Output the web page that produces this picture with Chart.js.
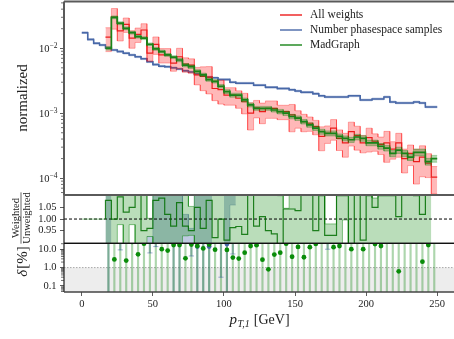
<!DOCTYPE html>
<html>
<head>
<meta charset="utf-8">
<title>pT,1 distribution</title>
<script src="https://cdn.jsdelivr.net/npm/chart.js@4.4.1/dist/chart.umd.min.js"></script>
<style>
  html, body { margin: 0; padding: 0; background: #fff; overflow: hidden; }
  #wrap { position: relative; width: 454px; height: 339px; overflow: hidden; }
  #wrap canvas { position: absolute; left: 0; }
</style>
</head>
<body>
<div id="wrap">
  <canvas id="main" width="460" height="200" style="top:0px"></canvas>
  <canvas id="ratio" width="460" height="60" style="top:190px"></canvas>
  <canvas id="delta" width="460" height="101" style="top:238px"></canvas>
</div>
<script>
const SERIF = '"Liberation Serif", "DejaVu Serif", serif';
const INK = '#222';

// 60 bins of 250/60 GeV
const N_BINS = 60;
const PT_MAX = 250;
const binEdges = Array.from({ length: N_BINS + 1 }, (_, i) => (i * PT_MAX) / N_BINS);
const binCenters = binEdges.slice(0, -1).map((e, i) => (e + binEdges[i + 1]) / 2);

const X_MIN = -12.5, X_MAX = 262.5;
const xTicks = [0, 50, 100, 150, 200, 250];
const yTopTicks = [1e-4, 1e-3, 1e-2];
const ratioTicks = [0.95, 1.0, 1.05];
const deltaTicks = [0.1, 1, 10];

const seriesLabels = ['All weights', 'Number phasespace samples', 'MadGraph'];

// top panel, normalized distributions
const allWeights = [
  0, 0, 0, 0, 0.0148, 0.0303, 0.0185, 0.0234, 0.0143, 0.0164,
  0.0191, 0.0084, 0.0115, 0.0079, 0.0079, 0.0059, 0.0074, 0.0057, 0.0055, 0.0039,
  0.0037, 0.0036, 0.0024, 0.0023, 0.0019, 0.0019, 0.0017, 0.0015, 0.0010, 0.00121,
  0.00106, 0.00119, 0.00119, 0.00106, 0.00106, 0.00094, 0.00084, 0.00074, 0.00070, 0.00062,
  0.00044, 0.00049, 0.00059, 0.00041, 0.00035, 0.00052, 0.00045, 0.00035, 0.00042, 0.00037,
  0.00033, 0.00035, 0.00028, 0.00035, 0.00020, 0.00024, 0.00018, 0.00021, 0.00017, 0.000104
];
const allWeightsRelErr = [
  null, null, null, null, 0.40, 0.35, 0.30, 0.25, 0.30, 0.25,
  0.25, 0.25, 0.30, 0.25, 0.25, 0.25, 0.35, 0.25, 0.25, 0.30,
  0.40, 0.45, 0.35, 0.40, 0.30, 0.30, 0.30, 0.35, 0.45, 0.30,
  0.35, 0.30, 0.30, 0.25, 0.25, 0.45, 0.30, 0.30, 0.25, 0.25,
  0.40, 0.30, 0.35, 0.35, 0.40, 0.40, 0.40, 0.30, 0.40, 0.30,
  0.30, 0.50, 0.30, 0.40, 0.40, 0.35, 0.55, 0.50, 0.40, 0.45
];
const phasespaceSamples = [
  0.0174, 0.0137, 0.0119, 0.0112, 0.0101, 0.0094, 0.0089, 0.0084, 0.0079, 0.0074,
  0.0069, 0.0062, 0.0056, 0.0053, 0.0052, 0.0050, 0.0048, 0.0045, 0.0043, 0.0040,
  0.0039, 0.0036, 0.0035, 0.0033, 0.0033, 0.0030, 0.0029, 0.0029, 0.0029, 0.0027,
  0.0027, 0.0025, 0.0025, 0.0024, 0.0024, 0.0023, 0.0022, 0.0021, 0.0021, 0.0020,
  0.00185, 0.00178, 0.00178, 0.00178, 0.00178, 0.00185, 0.00185, 0.0016, 0.0016, 0.00166,
  0.00166, 0.00178, 0.00149, 0.00144, 0.00144, 0.00144, 0.00149, 0.00144, 0.00125, 0.00125
];
const phasespaceRelErr = 0.03;
const madgraph = [
  0, 0, 0, 0, 0.0100, 0.0300, 0.0243, 0.0203, 0.0174, 0.0151,
  0.0143, 0.0115, 0.0098, 0.0089, 0.0079, 0.0073, 0.0066, 0.0055, 0.0052, 0.0044,
  0.0039, 0.0033, 0.0031, 0.0026, 0.00215, 0.0019, 0.0019, 0.0016, 0.00134, 0.00119,
  0.00119, 0.00119, 0.00112, 0.00106, 0.00100, 0.00089, 0.00084, 0.00074, 0.00066, 0.00059,
  0.00052, 0.00049, 0.00049, 0.00044, 0.00041, 0.00039, 0.00043, 0.00041, 0.00035, 0.00035,
  0.00031, 0.00029, 0.00024, 0.00027, 0.00024, 0.00021, 0.00025, 0.00025, 0.00018, 0.00020
];
const madgraphRelErr = [
  null, null, null, null, 0.06, 0.05, 0.05, 0.05, 0.05, 0.05,
  0.05, 0.05, 0.05, 0.05, 0.05, 0.05, 0.06, 0.06, 0.06, 0.06,
  0.06, 0.06, 0.06, 0.06, 0.07, 0.07, 0.07, 0.07, 0.07, 0.07,
  0.07, 0.07, 0.07, 0.08, 0.08, 0.08, 0.08, 0.08, 0.08, 0.08,
  0.09, 0.09, 0.09, 0.09, 0.09, 0.09, 0.10, 0.10, 0.10, 0.10,
  0.10, 0.10, 0.11, 0.11, 0.11, 0.11, 0.12, 0.12, 0.12, 0.12
];

// middle panel, weighted / unweighted
const ratioReference = 1;
const ratioValue = [
  1, 1, 1, 1, 1.08, 1.00, 1.095, 1.03, 1.05, 1.15,
  0.95, 0.96, 1.08, 1.09, 1.02, 0.97, 1.07, 0.97, 0.95, 1.05,
  0.96, 1.08, 0.92, 1.00, 0.91, 0.963, 0.968, 0.934, 1.15, 0.97,
  1.01, 0.95, 0.936, 0.88, 1.043, 1.043, 1.036, 1.12, 1.12, 0.95,
  1.10, 0.93, 0.93, 1.10, 1.10, 0.88, 1.12, 0.91, 1.10, 1.05,
  1.10, 1.10, 1.10, 1.01, 1.12, 1.12, 1.10, 1.02, 1.12, null
];
const ratioLow = [
  null, null, null, null, 0.80, 0.75, 0.976, 0.80, 0.976, 0.85,
  0.80, 0.925, 0.80, 0.85, 0.80, 0.80, 0.80, 0.928, 0.93, 0.80,
  0.80, 0.80, 0.80, 0.80, 0.80, 0.80, 0.80, 0.80, 0.80, 0.80,
  0.80, 0.80, 0.80, 0.70, 0.80, 0.80, 0.80, 0.85, 0.85, 0.80,
  0.85, 0.80, 0.80, 0.85, 0.996, 0.70, 0.80, 0.80, 0.80, 0.80,
  0.80, 0.80, 0.80, 0.80, 0.80, 0.80, 0.80, 0.80, 0.80, null
];
const ratioHigh = [
  null, null, null, null, 1.36, 1.25, 1.30, 1.25, 1.30, 1.40,
  1.15, 1.003, 1.30, 1.30, 1.20, 1.20, 1.30, 1.20, 1.054, 1.30,
  1.20, 1.30, 1.20, 1.20, 1.20, 1.20, 1.20, 1.20, 1.40, 1.20,
  1.20, 1.20, 1.20, 1.10, 1.046, 1.20, 1.20, 1.35, 1.35, 1.20,
  1.30, 0.979, 0.979, 1.30, 1.30, 1.20, 1.30, 1.20, 1.30, 1.09,
  1.30, 1.30, 1.30, 1.20, 1.30, 1.30, 1.30, 1.20, 1.30, null
];
const psRatioLow = [
  null, null, null, null, 0.80, null, null, null, null, null,
  null, 0.80, 0.80, 0.80, 0.80, 0.80, 0.80, 0.80, 0.80, 0.80,
  0.80, 0.80, null, null, 0.80, 1.06, null, null, null, null,
  null, null, null, null, null, null, null, null, null, null,
  null, null, null, null, null, null, null, null, null, null,
  null, null, null, null, null, null, null, null, null, null
];
const psRatioHigh = [
  null, null, null, null, 1.30, null, null, null, null, null,
  null, 0.925, 1.30, 1.30, 1.30, 1.30, 1.30, 1.02, 0.96, 1.30,
  1.30, 1.30, null, null, 1.30, 1.30, null, null, null, null,
  null, null, null, null, null, null, null, null, null, null,
  null, null, null, null, null, null, null, null, null, null,
  null, null, null, null, null, null, null, null, null, null
];

// bottom panel, relative uncertainty delta [%]
const deltaReference = 1;
const deltaValue = [
  null, null, null, null, 35, 2.8, 30, 2.4, 25, 5.3,
  20, 40, 30, 10, 8.4, 17, 17, 3.2, 18, 15,
  11, 18, 9.5, 30, 9.2, 3.5, 3.1, 6.5, 15, 16.5,
  2.7, 0.81, 5.1, 6.5, 20, 3.9, 13.4, 3.65, 12.9, 19.5,
  30, 30, 13, 15, 30, 10, 30, 10, 30, 19,
  15, 30, 30, 0.63, 30, 30, 30, 2.1, 17, 30
];
const deltaErr = [
  null, null, null, null, 40, 25, 35, 25, 30, 22,
  25, 45, 35, 20, 20, 20, 20, 22, 20, 20,
  20, 20, 20, 35, 20, 22, 22, 20, 20, 20,
  22, 25, 20, 20, 25, 22, 20, 22, 20, 20,
  35, 35, 20, 20, 35, 20, 35, 20, 35, 20,
  20, 35, 35, 25, 35, 35, 35, 22, 20, 35
];
const psDeltaValue = [
  null, null, null, null, 30, null, 30, null, null, null,
  null, 30, 30, null, null, 30, 30, null, 30, 14,
  30, 14, null, 30, 19, 30, null, null, null, null,
  null, null, null, null, null, null, null, null, null, null,
  null, 30, null, null, null, null, null, null, null, null,
  null, null, null, null, null, null, null, null, null, null
];
const psDeltaErr = [
  null, null, null, null, 40, null, 20.8, null, null, null,
  null, 23.7, 16.1, null, null, 40, 40, null, 25.7, 20,
  40, 20, null, 29.7, 25, 24.5, null, null, null, null,
  null, null, null, null, null, null, null, null, null, null,
  null, 20, null, null, null, null, null, null, null, null,
  null, null, null, null, null, null, null, null, null, null
];

const TOP_MIN = 5.5e-5, TOP_MAX = 0.0525;
const RATIO_MIN = 0.896, RATIO_MAX = 1.103;
const DELTA_MIN = 0.047, DELTA_MAX = 21;

const red = 'rgb(236,28,28)';
const blue = 'rgb(72,104,168)';
const green = 'rgb(24,132,24)';

Chart.defaults.font.family = SERIF;

// histogram values -> flat-topped step path
function stepPoints(values) {
  const pts = [];
  values.forEach((v, i) => {
    if (v == null) { pts.push({ x: binEdges[i], y: null }); return; }
    pts.push({ x: binEdges[i], y: v }, { x: binEdges[i + 1], y: v });
  });
  return pts;
}

function stepLine(values, color, width, order, extra) {
  return Object.assign({
    type: 'line', data: stepPoints(values), borderColor: color, borderWidth: width,
    pointRadius: 0, fill: false, tension: 0, order, clip: 0, spanGaps: false,
  }, extra || {});
}

function band(lo, hi, fillColor, edgeColor, order) {
  return [
    stepLine(lo, edgeColor, 1, order),
    stepLine(hi, edgeColor, 1, order, { fill: '-1', backgroundColor: fillColor }),
  ];
}

const scaleBand = (vals, rel, sign) =>
  vals.map((v, i) => {
    const e = Array.isArray(rel) ? rel[i] : rel;
    return e == null ? null : v * (1 + sign * e);
  });

function xAxis(visible) {
  const axis = {
    type: 'linear', min: X_MIN, max: X_MAX, offset: false, display: visible,
    afterBuildTicks: s => { s.ticks = xTicks.map(value => ({ value })); },
    border: { display: false },
    grid: { display: true, offset: false, drawOnChartArea: false, drawTicks: true, tickLength: 4, tickColor: '#333', tickWidth: 0.8 },
    ticks: { font: { family: SERIF, size: 10.5 }, color: INK, padding: 2, maxRotation: 0, autoSkip: false, callback: v => String(v) },
  };
  if (visible) {
    axis.afterFit = s => { s.height = 47; s.paddingLeft = 0; s.paddingRight = 0; };
  }
  return axis;
}

function yAxis(type, min, max, ticks, labels, fmt) {
  return {
    type, min, max,
    afterFit: s => { s.width = 64; s.paddingTop = 0; s.paddingBottom = 0; },
    afterBuildTicks: s => { s.ticks = ticks.map(value => ({ value })); },
    border: { display: false },
    grid: { display: true, offset: false, drawOnChartArea: false, drawTicks: true, tickLength: 4, tickColor: '#333', tickWidth: 0.8 },
    ticks: { display: labels, font: { family: SERIF, size: 10.5 }, color: INK, padding: 3.5, autoSkip: false, callback: fmt },
  };
}

// plugins
const clipPlugin = {
  id: 'clipArea',
  beforeDatasetsDraw(chart) {
    const { ctx, chartArea: a } = chart;
    ctx.save();
    ctx.beginPath();
    ctx.rect(a.left, a.top, a.right - a.left, a.bottom - a.top);
    ctx.clip();
  },
  afterDatasetsDraw(chart) { chart.ctx.restore(); },
};

function framePlugin(sides) {
  return {
    id: 'frame',
    afterDraw(chart) {
      const { ctx, chartArea: a } = chart;
      const seg = {
        top: [a.left, a.top, a.right, a.top],
        bottom: [a.left, a.bottom, a.right, a.bottom],
        left: [a.left, a.top, a.left, a.bottom],
        right: [a.right, a.top, a.right, a.bottom],
      };
      ctx.save();
      ['left', 'right', 'bottom', 'top'].forEach(k => {
        const [c, w] = sides[k];
        const p = seg[k];
        ctx.strokeStyle = c; ctx.lineWidth = w;
        ctx.beginPath(); ctx.moveTo(p[0], p[1]); ctx.lineTo(p[2], p[3]); ctx.stroke();
      });
      ctx.restore();
    },
  };
}

function logMinorTicks(axisId) {
  return {
    id: 'logMinor',
    afterDraw(chart) {
      const s = chart.scales[axisId], ctx = chart.ctx, x0 = chart.chartArea.left;
      ctx.save();
      ctx.strokeStyle = '#333'; ctx.lineWidth = 0.7;
      for (let e = Math.floor(Math.log10(s.min)); e <= Math.ceil(Math.log10(s.max)); e++) {
        for (let k = 2; k <= 9; k++) {
          const v = k * Math.pow(10, e);
          if (v < s.min || v > s.max) continue;
          const y = s.getPixelForValue(v);
          ctx.beginPath(); ctx.moveTo(x0 - 3, y); ctx.lineTo(x0, y); ctx.stroke();
        }
      }
      ctx.restore();
    },
  };
}

const powerLabels = {
  id: 'powerLabels',
  afterDraw(chart) {
    const s = chart.scales.y, ctx = chart.ctx, right = 57.5;
    ctx.save();
    ctx.fillStyle = INK; ctx.textBaseline = 'alphabetic'; ctx.textAlign = 'left';
    yTopTicks.forEach(v => {
      const y = s.getPixelForValue(v);
      const exp = '\u2212' + Math.round(-Math.log10(v));
      ctx.font = `7.5px ${SERIF}`;
      const we = ctx.measureText(exp).width;
      ctx.font = `10.5px ${SERIF}`;
      const wb = ctx.measureText('10').width;
      ctx.fillText('10', right - we - wb, y + 3.6);
      ctx.font = `7.5px ${SERIF}`;
      ctx.fillText(exp, right - we, y - 0.6);
    });
    ctx.restore();
  },
};

const insideLegend = {
  id: 'insideLegend',
  afterDraw(chart) {
    const ctx = chart.ctx;
    const colors = [red, blue, green];
    ctx.save();
    ctx.font = `11.5px ${SERIF}`; ctx.textBaseline = 'middle'; ctx.fillStyle = INK;
    seriesLabels.forEach((label, i) => {
      const y = 15 + i * 15;
      ctx.strokeStyle = colors[i]; ctx.lineWidth = 1.4;
      ctx.beginPath(); ctx.moveTo(280, y); ctx.lineTo(302, y); ctx.stroke();
      ctx.fillText(label, 310, y);
    });
    ctx.restore();
  },
};

function rotatedText(draw) {
  return { id: 'axisTitle', afterDraw(chart) { const ctx = chart.ctx; ctx.save(); draw(ctx); ctx.restore(); } };
}

const baseOptions = (padding, yScale, xVisible) => ({
  responsive: false, animation: false, devicePixelRatio: 1, events: [],
  layout: { padding },
  plugins: { legend: { display: false }, tooltip: { enabled: false } },
  scales: { x: xAxis(xVisible), y: yScale },
});

const GRAY_FRAME = ['#5a5a5a', 2];
const DARK_FRAME = ['#2a2a2a', 1.3];

// ---- top panel
const mainDatasets = [
  stepLine(madgraph, green, 1.7, 1),
  ...band(scaleBand(madgraph, madgraphRelErr, -1), scaleBand(madgraph, madgraphRelErr, 1),
    'rgba(0,128,0,0.3)', 'rgba(0,128,0,0.3)', 2),
  stepLine(allWeights, red, 1.2, 3),
  ...band(scaleBand(allWeights, allWeightsRelErr, -1), scaleBand(allWeights, allWeightsRelErr, 1),
    'rgba(255,0,0,0.28)', 'rgba(255,0,0,0.3)', 4),
  stepLine(phasespaceSamples, blue, 1.5, 5),
  ...band(scaleBand(phasespaceSamples, phasespaceRelErr, -1), scaleBand(phasespaceSamples, phasespaceRelErr, 1),
    'rgba(72,104,168,0.3)', 'rgba(72,104,168,0.3)', 6),
];

new Chart(document.getElementById('main'), {
  type: 'line',
  data: { datasets: mainDatasets },
  options: baseOptions({ top: 1.5, bottom: 5, left: 0, right: 5 },
    yAxis('logarithmic', TOP_MIN, TOP_MAX, yTopTicks, false, v => v), false),
  plugins: [
    clipPlugin, logMinorTicks('y'), powerLabels, insideLegend,
    framePlugin({ top: GRAY_FRAME, bottom: GRAY_FRAME, left: GRAY_FRAME, right: GRAY_FRAME }),
    rotatedText(ctx => {
      ctx.translate(23, 98); ctx.rotate(-Math.PI / 2);
      ctx.font = `15px ${SERIF}`; ctx.fillStyle = INK; ctx.textAlign = 'center'; ctx.textBaseline = 'middle';
      ctx.fillText('normalized', 0, 0);
    }),
  ],
});

// ---- ratio panel
const lightStart = binEdges[4] - 1e-9;
const ratioDatasets = [
  stepLine(ratioValue, 'rgba(0,110,0,0.85)', 1.2, 1, {
    segment: { borderColor: c => (c.p0.parsed.x < lightStart ? 'rgba(0,128,0,0.35)' : undefined) },
  }),
  {
    type: 'line', data: [{ x: X_MIN, y: ratioReference }, { x: X_MAX, y: ratioReference }],
    borderColor: '#000', borderWidth: 1, borderDash: [3, 2], pointRadius: 0, fill: false, order: 2, clip: 0,
  },
  ...band(ratioLow, ratioHigh, 'rgba(0,128,0,0.27)', 'rgba(0,128,0,0.45)', 3),
  ...band(psRatioLow, psRatioHigh, 'rgba(72,104,168,0.35)', 'rgba(72,104,168,0.3)', 4),
];

new Chart(document.getElementById('ratio'), {
  type: 'line',
  data: { datasets: ratioDatasets },
  options: baseOptions({ top: 5, bottom: 6.7, left: 0, right: 5 },
    yAxis('linear', RATIO_MIN, RATIO_MAX, ratioTicks, true, v => Number(v).toFixed(2)), false),
  plugins: [
    clipPlugin,
    framePlugin({ top: GRAY_FRAME, bottom: ['#111', 1.3], left: DARK_FRAME, right: DARK_FRAME }),
    rotatedText(ctx => {
      ctx.translate(21, 28); ctx.rotate(-Math.PI / 2);
      ctx.font = `10.5px ${SERIF}`; ctx.fillStyle = INK; ctx.textAlign = 'center'; ctx.textBaseline = 'alphabetic';
      const w = ctx.measureText('Unweighted').width;
      ctx.fillText('Weighted', 0, -2.5);
      ctx.strokeStyle = INK; ctx.lineWidth = 0.7;
      ctx.beginPath(); ctx.moveTo(-w / 2, 0); ctx.lineTo(w / 2, 0); ctx.stroke();
      ctx.fillText('Unweighted', 0, 9);
    }),
  ],
});

// ---- delta panel
const bars = (vals, errs) => vals
  .map((v, i) => (v == null ? null : { x: binCenters[i], y: [Math.max(v - errs[i], DELTA_MIN), v + errs[i]] }))
  .filter(Boolean);
const dots = vals => vals.map((v, i) => (v == null ? null : { x: binCenters[i], y: v })).filter(Boolean);
const caps = (vals, errs) => vals
  .map((v, i) => (v == null || v - errs[i] <= DELTA_MIN ? null : { x: binCenters[i], y: v - errs[i] }))
  .filter(Boolean);

const deltaDatasets = [
  { type: 'line', data: dots(deltaValue), showLine: false, pointRadius: 2.4, pointBackgroundColor: 'rgb(10,140,10)', pointBorderWidth: 0, order: 1, clip: 0 },
  { type: 'line', data: dots(psDeltaValue), showLine: false, pointRadius: 2.4, pointBackgroundColor: blue, pointBorderWidth: 0, order: 2, clip: 0 },
  { type: 'line', data: caps(psDeltaValue, psDeltaErr), showLine: false, pointStyle: 'line', pointRadius: 2.6, pointBorderColor: 'rgba(72,104,168,0.5)', pointBorderWidth: 1, order: 2, clip: 0 },
  { type: 'bar', data: bars(deltaValue, deltaErr), barThickness: 1.5, backgroundColor: 'rgba(0,128,0,0.32)', borderWidth: 0, grouped: false, order: 3, clip: 0 },
  { type: 'bar', data: bars(psDeltaValue, psDeltaErr), barThickness: 1.5, backgroundColor: 'rgba(72,104,168,0.4)', borderWidth: 0, grouped: false, order: 4, clip: 0 },
  {
    type: 'line', data: [{ x: X_MIN, y: deltaReference }, { x: X_MAX, y: deltaReference }],
    borderColor: '#a8a8a8', borderWidth: 1, borderDash: [1.5, 1.5], pointRadius: 0,
    fill: 'start', backgroundColor: '#ededed', order: 10, clip: 0,
  },
];

new Chart(document.getElementById('delta'), {
  type: 'line',
  data: { datasets: deltaDatasets },
  options: baseOptions({ top: 5.3, bottom: 0, left: 0, right: 5 },
    yAxis('logarithmic', DELTA_MIN, DELTA_MAX, deltaTicks, true, v => Number(v).toFixed(1)), true),
  plugins: [
    clipPlugin, logMinorTicks('y'),
    framePlugin({ top: ['#111', 1.3], bottom: ['#444', 1.3], left: DARK_FRAME, right: DARK_FRAME }),
    rotatedText(ctx => {
      ctx.translate(23, 24); ctx.rotate(-Math.PI / 2);
      ctx.fillStyle = INK; ctx.textBaseline = 'middle'; ctx.textAlign = 'left';
      ctx.font = `italic 15px ${SERIF}`;
      const wd = ctx.measureText('\u03b4').width;
      ctx.font = `15px ${SERIF}`;
      const wr = ctx.measureText('[%]').width;
      const x0 = -(wd + wr) / 2;
      ctx.font = `italic 15px ${SERIF}`;
      ctx.fillText('\u03b4', x0, 0);
      ctx.font = `15px ${SERIF}`;
      ctx.fillText('[%]', x0 + wd + 1, 0);
    }),
    rotatedText(ctx => {
      const cx = 259.5, y = 86;
      ctx.fillStyle = INK; ctx.textBaseline = 'alphabetic'; ctx.textAlign = 'left';
      ctx.font = `italic 15px ${SERIF}`; const wp = ctx.measureText('p').width;
      ctx.font = `italic 10px ${SERIF}`; const ws = ctx.measureText('T,1').width;
      ctx.font = `14px ${SERIF}`; const wg = ctx.measureText(' [GeV]').width;
      let x = cx - (wp + ws + wg + 1) / 2;
      ctx.font = `italic 15px ${SERIF}`; ctx.fillText('p', x, y); x += wp + 0.5;
      ctx.font = `italic 10px ${SERIF}`; ctx.fillText('T,1', x, y + 3); x += ws + 0.5;
      ctx.font = `14px ${SERIF}`; ctx.fillText(' [GeV]', x, y);
    }),
  ],
});
</script>
</body>
</html>
